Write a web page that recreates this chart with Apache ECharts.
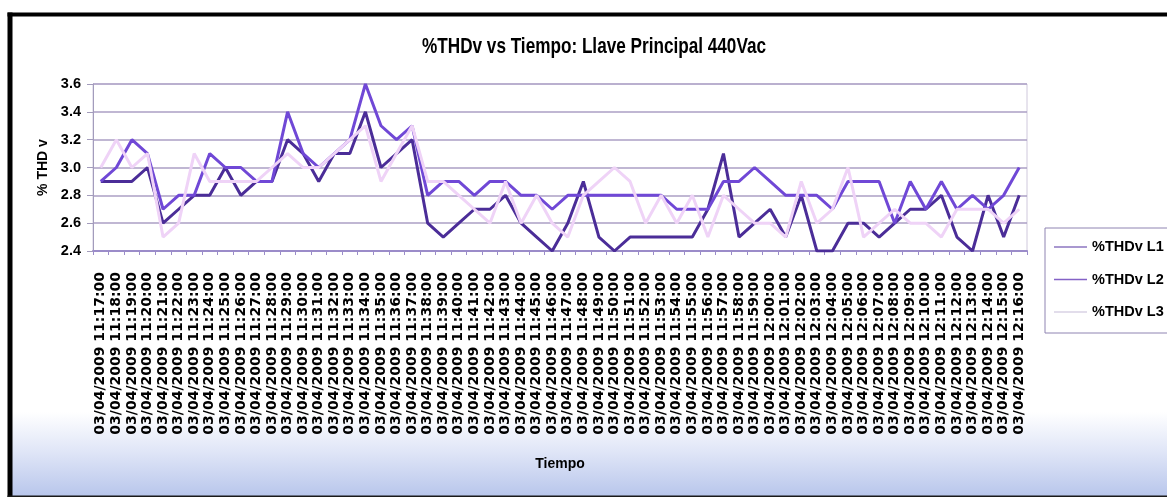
<!DOCTYPE html>
<html>
<head>
<meta charset="utf-8">
<script src="https://cdn.jsdelivr.net/npm/echarts@6/dist/echarts.min.js"></script>
<style>
  html, body { margin: 0; padding: 0; background: #ffffff; }
  #chart { width: 1167px; height: 497px; }
</style>
</head>
<body>
<div id="chart"></div>
<script>
// Sampling times (one reading per minute)
const categories = [
  '03/04/2009 11:17:00', '03/04/2009 11:18:00', '03/04/2009 11:19:00', '03/04/2009 11:20:00',
  '03/04/2009 11:21:00', '03/04/2009 11:22:00', '03/04/2009 11:23:00', '03/04/2009 11:24:00',
  '03/04/2009 11:25:00', '03/04/2009 11:26:00', '03/04/2009 11:27:00', '03/04/2009 11:28:00',
  '03/04/2009 11:29:00', '03/04/2009 11:30:00', '03/04/2009 11:31:00', '03/04/2009 11:32:00',
  '03/04/2009 11:33:00', '03/04/2009 11:34:00', '03/04/2009 11:35:00', '03/04/2009 11:36:00',
  '03/04/2009 11:37:00', '03/04/2009 11:38:00', '03/04/2009 11:39:00', '03/04/2009 11:40:00',
  '03/04/2009 11:41:00', '03/04/2009 11:42:00', '03/04/2009 11:43:00', '03/04/2009 11:44:00',
  '03/04/2009 11:45:00', '03/04/2009 11:46:00', '03/04/2009 11:47:00', '03/04/2009 11:48:00',
  '03/04/2009 11:49:00', '03/04/2009 11:50:00', '03/04/2009 11:51:00', '03/04/2009 11:52:00',
  '03/04/2009 11:53:00', '03/04/2009 11:54:00', '03/04/2009 11:55:00', '03/04/2009 11:56:00',
  '03/04/2009 11:57:00', '03/04/2009 11:58:00', '03/04/2009 11:59:00', '03/04/2009 12:00:00',
  '03/04/2009 12:01:00', '03/04/2009 12:02:00', '03/04/2009 12:03:00', '03/04/2009 12:04:00',
  '03/04/2009 12:05:00', '03/04/2009 12:06:00', '03/04/2009 12:07:00', '03/04/2009 12:08:00',
  '03/04/2009 12:09:00', '03/04/2009 12:10:00', '03/04/2009 12:11:00', '03/04/2009 12:12:00',
  '03/04/2009 12:13:00', '03/04/2009 12:14:00', '03/04/2009 12:15:00', '03/04/2009 12:16:00'
];

// Voltage THD per phase (%)
const thdL1 = [
  2.9, 2.9, 2.9, 3.0, 2.6, 2.7, 2.8, 2.8, 3.0, 2.8,
  2.9, 2.9, 3.2, 3.1, 2.9, 3.1, 3.1, 3.4, 3.0, 3.1,
  3.2, 2.6, 2.5, 2.6, 2.7, 2.7, 2.8, 2.6, 2.5, 2.4,
  2.6, 2.9, 2.5, 2.4, 2.5, 2.5, 2.5, 2.5, 2.5, 2.7,
  3.1, 2.5, 2.6, 2.7, 2.5, 2.8, 2.4, 2.4, 2.6, 2.6,
  2.5, 2.6, 2.7, 2.7, 2.8, 2.5, 2.4, 2.8, 2.5, 2.8
];
const thdL2 = [
  2.9, 3.0, 3.2, 3.1, 2.7, 2.8, 2.8, 3.1, 3.0, 3.0,
  2.9, 2.9, 3.4, 3.1, 3.0, 3.1, 3.2, 3.6, 3.3, 3.2,
  3.3, 2.8, 2.9, 2.9, 2.8, 2.9, 2.9, 2.8, 2.8, 2.7,
  2.8, 2.8, 2.8, 2.8, 2.8, 2.8, 2.8, 2.7, 2.7, 2.7,
  2.9, 2.9, 3.0, 2.9, 2.8, 2.8, 2.8, 2.7, 2.9, 2.9,
  2.9, 2.6, 2.9, 2.7, 2.9, 2.7, 2.8, 2.7, 2.8, 3.0
];
const thdL3 = [
  3.0, 3.2, 3.0, 3.1, 2.5, 2.6, 3.1, 2.9, 2.9, 2.9,
  2.9, 3.0, 3.1, 3.0, 3.0, 3.1, 3.2, 3.3, 2.9, 3.1,
  3.3, 2.9, 2.9, 2.8, 2.7, 2.6, 2.9, 2.6, 2.8, 2.6,
  2.5, 2.8, 2.9, 3.0, 2.9, 2.6, 2.8, 2.6, 2.8, 2.5,
  2.8, 2.7, 2.6, 2.6, 2.5, 2.9, 2.6, 2.7, 3.0, 2.5,
  2.6, 2.7, 2.6, 2.6, 2.5, 2.7, 2.7, 2.7, 2.6, 2.7
];

const seriesNames = ['%THDv L1', '%THDv L2', '%THDv L3'];
const yTicks = { min: 2.4, max: 3.6, step: 0.2 };
const chartTitle = '%THDv vs Tiempo: Llave Principal 440Vac';

const sans = "'Liberation Sans', Arial, sans-serif";
const lineColors = ['#4b2d98', '#7048d6', '#efd3f7'];
const legendColors = ['#8c76c0', '#8462c6', '#d9d2e4'];

const chart = echarts.init(document.getElementById('chart'), null, { renderer: 'canvas' });

const makeLine = (name, data, color) => ({
  name: name,
  type: 'line',
  data: data,
  symbol: 'none',
  showSymbol: false,
  smooth: false,
  lineStyle: { color: color, width: 3 },
  itemStyle: { color: color },
  emphasis: { disabled: true }
});

chart.setOption({
  animation: false,
  backgroundColor: '#ffffff',
  legend: {
    orient: 'vertical',
    left: 1045,
    top: 228,
    padding: [9, 30, 11, 9],
    itemWidth: 33,
    itemHeight: 1.5,
    itemGap: 12.5,
    icon: 'rect',
    backgroundColor: '#ffffff',
    borderColor: '#8f84b2',
    borderWidth: 1,
    textStyle: { fontFamily: sans, fontWeight: 'bold', fontSize: 14.5, color: '#000000', lineHeight: 20 },
    data: seriesNames.map((n, i) => ({
      name: n,
      icon: 'rect',
      itemStyle: { color: legendColors[i], borderWidth: 0 }
    }))
  },
  grid: {
    left: 93,
    right: 1167 - 1027,
    top: 84,
    bottom: 497 - 251,
    show: true,
    borderColor: '#cfc8dc',
    borderWidth: 1,
    backgroundColor: 'transparent'
  },
  xAxis: {
    type: 'category',
    data: categories,
    boundaryGap: true,
    name: 'Tiempo',
    nameLocation: 'middle',
    nameGap: 206,
    nameTextStyle: { fontFamily: sans, fontWeight: 'bold', fontSize: 14, color: '#000000' },
    axisLine: { show: true, lineStyle: { color: '#9b8cc9', width: 2 } },
    axisTick: { show: true, length: 4, interval: 0, lineStyle: { color: '#9b8cc9' } },
    axisLabel: {
      interval: 0,
      rotate: 90,
      margin: 21,
      fontFamily: "'DejaVu Sans', sans-serif",
      fontWeight: 'bold',
      fontSize: 14,
      color: '#000000'
    },
    splitLine: { show: false }
  },
  yAxis: {
    type: 'value',
    min: yTicks.min,
    max: yTicks.max,
    interval: yTicks.step,
    name: '% THD v',
    nameLocation: 'middle',
    nameGap: 43,
    nameTextStyle: { fontFamily: sans, fontWeight: 'bold', fontSize: 14, color: '#000000' },
    axisLine: { show: true, lineStyle: { color: '#a39cbc', width: 1 } },
    axisTick: { show: true, length: 6, lineStyle: { color: '#a39cbc' } },
    axisLabel: {
      margin: 12,
      fontFamily: sans,
      fontWeight: 'bold',
      fontSize: 14.5,
      color: '#000000',
      formatter: v => v.toFixed(1)
    },
    splitLine: { show: true, lineStyle: { color: '#ab9fc5', width: 1.5 } }
  },
  graphic: [
    // pale blue wash along the bottom of the chart area
    {
      type: 'rect',
      z: -10,
      silent: true,
      shape: { x: 10, y: 412, width: 1160, height: 90 },
      style: {
        fill: new echarts.graphic.LinearGradient(0, 0, 0, 1, [
          { offset: 0, color: 'rgba(255,255,255,1)' },
          { offset: 0.45, color: '#dfe5f7' },
          { offset: 1, color: '#b3c2ea' }
        ])
      }
    },
    // chart title, set in a condensed bold face
    {
      type: 'text',
      x: 594,
      y: 46.5,
      scaleX: 0.78,
      silent: true,
      style: {
        text: chartTitle,
        align: 'center',
        verticalAlign: 'middle',
        font: "bold 22px 'Liberation Sans', Arial, sans-serif",
        fill: '#000000'
      }
    },
    // outer frame
    { type: 'rect', z: 100, silent: true, shape: { x: 7.5, y: 12.5, width: 5, height: 490 }, style: { fill: '#000000' } },
    { type: 'rect', z: 100, silent: true, shape: { x: 7.5, y: 12.5, width: 1165, height: 4 }, style: { fill: '#000000' } },
    { type: 'rect', z: 100, silent: true, shape: { x: 7.5, y: 495.5, width: 1165, height: 3 }, style: { fill: '#1a1a1a' } }
  ],
  series: [
    makeLine(seriesNames[0], thdL1, lineColors[0]),
    makeLine(seriesNames[1], thdL2, lineColors[1]),
    makeLine(seriesNames[2], thdL3, lineColors[2])
  ]
});
</script>
</body>
</html>
